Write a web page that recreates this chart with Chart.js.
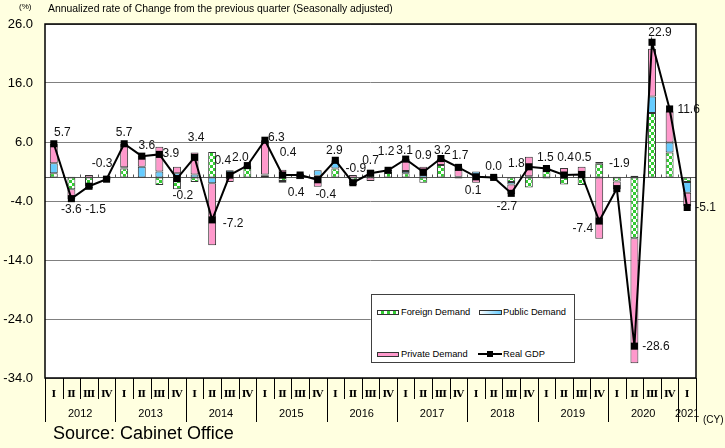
<!DOCTYPE html>
<html><head><meta charset="utf-8">
<script src="https://cdn.jsdelivr.net/npm/chart.js@4.4.1/dist/chart.umd.min.js"></script>
<style>
html,body{margin:0;padding:0;background:#FFFFE0;}
#wrap{position:relative;width:725px;height:448px;overflow:hidden;background:#FFFFE0;font-family:"Liberation Sans",Arial,sans-serif;}
canvas{position:absolute;left:0;top:0;}
.t{position:absolute;white-space:nowrap;color:#000;line-height:1;}
.sw{position:absolute;box-sizing:border-box;border:1px solid #333;}
</style></head><body>
<div id="wrap">
<canvas id="c" width="725" height="448"></canvas>
<div class="t" style="left:19px;top:3px;font-size:8px">(%)</div>
<div class="t" style="left:48px;top:4px;font-size:10.4px">Annualized rate of Change from the previous quarter (Seasonally adjusted)</div>
<div class="t" style="left:703px;top:415px;font-size:10px">(CY)</div>
<div class="t" style="left:53px;top:424px;font-size:18px">Source: Cabinet Office</div>
<div style="position:absolute;left:371px;top:294px;width:204px;height:69px;box-sizing:border-box;background:#fff;border:1px solid #404040;"></div>
<div class="sw" style="left:377px;top:310px;width:22px;height:5px;background:repeating-conic-gradient(#33CC33 0 25%,#fff 0 50%) 0 0/6px 6px;"></div>
<div class="t" style="left:401px;top:308px;font-size:9.3px">Foreign Demand</div>
<div class="sw" style="left:479px;top:310px;width:23px;height:5px;background:linear-gradient(to right,#fff,#66CCFF);"></div>
<div class="t" style="left:503px;top:308px;font-size:9.3px">Public Demand</div>
<div class="sw" style="left:377px;top:352px;width:22px;height:5px;background:#FF99CC;"></div>
<div class="t" style="left:401px;top:350px;font-size:9.3px">Private Demand</div>
<div style="position:absolute;left:478px;top:353px;width:24px;height:2px;background:#000;"></div>
<div style="position:absolute;left:487px;top:351px;width:6px;height:6px;background:#000;"></div>
<div class="t" style="left:503px;top:350px;font-size:9.3px">Real GDP</div>
</div>
<script>
// ---- data ----
const quarterLabels = ['Ⅰ','Ⅱ','Ⅲ','Ⅳ','Ⅰ','Ⅱ','Ⅲ','Ⅳ','Ⅰ','Ⅱ','Ⅲ','Ⅳ','Ⅰ','Ⅱ','Ⅲ','Ⅳ','Ⅰ','Ⅱ','Ⅲ','Ⅳ','Ⅰ','Ⅱ','Ⅲ','Ⅳ','Ⅰ','Ⅱ','Ⅲ','Ⅳ','Ⅰ','Ⅱ','Ⅲ','Ⅳ','Ⅰ','Ⅱ','Ⅲ','Ⅳ','Ⅰ'];
const yearLabels = ['2012','2013','2014','2015','2016','2017','2018','2019','2020','2021'];
const realGDP = [5.7,-3.6,-1.5,-0.3, 5.7,3.6,3.9,-0.2, 3.4,-7.2,0.4,2.0, 6.3,0.4,0.4,-0.4, 2.9,-0.9,0.7,1.2, 3.1,0.9,3.2,1.7, 0.1,0.0,-2.7,1.8, 1.5,0.4,0.5,-7.4, -1.9,-28.6,22.9,11.6, -5.1];
const foreignDemand = [0.7,-2.0,-1.5,-0.4, 1.5,-0.1,-1.3,-2.0, -0.8,4.3,0.8,1.6, 0.3,-0.6,0.6,0.3, 1.5,-1.0,1.0,1.0, 0.7,-0.9,2.1,0.1, 0.4,0.2,-0.8,-1.7, 1.3,-1.2,-1.3,2.3, -0.7,-10.3,10.9,4.2, -0.8];
const publicDemand = [1.7,0.1,-0.4,0.2, 0.2,1.8,1.0,0.7, 0.5,-1.0,0.4,0.0, 0.2,-0.3,0.1,0.9, 1.4,-0.3,0.3,-0.1, 0.4,0.4,0.0,-0.2, 0.6,0.1,-0.4,0.2, 0.4,0.4,0.6,0.3, 0.1,0.3,2.8,1.7, -1.8];
const privateDemand = [3.3,-1.7,0.4,-0.1, 4.0,1.9,4.2,1.1, 3.7,-10.5,-0.8,0.4, 5.8,1.3,-0.3,-1.6, 0.0,0.4,-0.6,0.3, 2.0,1.4,1.1,1.8, -0.9,-0.3,-1.6,3.3, -0.2,1.2,1.2,-10.4, -1.3,-21.2,8.1,5.3, -2.3];
const yTicks = [26,16,6,-4,-14,-24,-34];
// label placement offsets (px) relative to each GDP point
const labelOffsets = [[8.5,-11],[0,11.5],[6.5,23],[-4.5,-15],[0,-11],[5,-10],[11.5,-1],[6,17.5],[1.5,-20],[21,3.5],[-7,-14],[-7,-8],[11.5,-3],[5.5,-22],[-4,17.5],[8,15],[-1,-9.5],[3,-14],[0,-13],[-2,-19],[-1,-8],[0,-16],[1.5,-7.5],[1.5,-11.5],[-3,14],[0,-10.5],[-4.5,13],[-12.5,-3],[-1,-11],[1.5,-17.5],[1.5,-17],[-16.5,7.5],[2.5,-24.5],[21.5,1],[8,-10],[19,1],[18.5,0]];

const categories = quarterLabels.map((q,i)=>yearLabels[Math.floor(i/4)]+' '+q);

function checker(){
  const c=document.createElement('canvas'); c.width=6;c.height=6;
  const g=c.getContext('2d'); g.fillStyle='#33CC33'; g.fillRect(0,0,6,6);
  g.fillStyle='#fff'; g.fillRect(0,0,3,3); g.fillRect(3,3,3,3);
  return g.createPattern(c,'repeat');
}
const SANS='"Liberation Sans", Arial, sans-serif';

const decor = {
  id:'decor',
  beforeDraw(chart){
    const {ctx, chartArea:a} = chart;
    ctx.save();
    ctx.fillStyle='#FFFFE0'; ctx.fillRect(0,0,chart.width,chart.height);
    ctx.fillStyle='#fff'; ctx.fillRect(a.left,a.top,a.right-a.left,a.bottom-a.top);
    ctx.restore();
  },
  beforeDatasetsDraw(chart){
    const {ctx, chartArea:a, scales:{x,y}} = chart;
    const y0 = Math.round(y.getPixelForValue(0))+0.5;
    const w = x.getPixelForValue(1)-x.getPixelForValue(0);
    ctx.save();
    ctx.strokeStyle='#555'; ctx.lineWidth=1;
    ctx.beginPath(); ctx.moveTo(a.left,y0); ctx.lineTo(a.right,y0); ctx.stroke();
    ctx.beginPath();
    for(let k=1;k<categories.length;k++){
      const bx=Math.round(x.getPixelForValue(k)-w/2)+0.5;
      ctx.moveTo(bx,y0); ctx.lineTo(bx,y0-3);
    }
    ctx.stroke();
    ctx.restore();
  },
  afterDraw(chart){
    const {ctx, chartArea:a, scales:{x,y}} = chart;
    const n = categories.length;
    const w = x.getPixelForValue(1)-x.getPixelForValue(0);
    ctx.save();
    // frame
    ctx.strokeStyle='#000'; ctx.lineWidth=1.5;
    ctx.strokeRect(a.left,a.top,a.right-a.left,a.bottom-a.top);
    // category separators
    ctx.lineWidth=1; ctx.strokeStyle='#000';
    ctx.beginPath();
    for(let k=0;k<=n;k++){
      const bx=Math.round(k<n ? x.getPixelForValue(k)-w/2 : x.getPixelForValue(n-1)+w/2)+0.5;
      const yearB = (k%4===0) || k===n;
      ctx.moveTo(bx,a.bottom); ctx.lineTo(bx, yearB ? a.bottom+44 : a.bottom+21);
    }
    ctx.stroke();
    // quarter labels
    ctx.fillStyle='#000'; ctx.textAlign='center'; ctx.textBaseline='middle';
    ctx.font='bold 10px "DejaVu Serif", "Liberation Serif", serif';
    quarterLabels.forEach((q,i)=>ctx.fillText(q, x.getPixelForValue(i), a.bottom+16));
    // year labels
    ctx.font='11px '+SANS;
    yearLabels.forEach((yl,j)=>{
      const s=4*j, e=Math.min(4*j+3,n-1);
      const cx=(x.getPixelForValue(s)+x.getPixelForValue(e))/2;
      ctx.fillText(yl, cx, a.bottom+36);
    });
    // data labels
    const meta = chart.getDatasetMeta(3);
    ctx.font='12px '+SANS; ctx.fillStyle='#111';
    meta.data.forEach((p,i)=>{
      const o=labelOffsets[i];
      ctx.fillText(realGDP[i].toFixed(1), p.x+o[0], p.y+o[1]);
    });
    ctx.restore();
  }
};

const barCommon = {type:'bar', borderColor:'#333', borderWidth:1, borderSkipped:false, stack:'d', order:1, barPercentage:0.45, categoryPercentage:1};
new Chart(document.getElementById('c'), {
  data:{
    labels: categories,
    datasets:[
      Object.assign({label:'Foreign Demand', data:foreignDemand, backgroundColor:checker()}, barCommon),
      Object.assign({label:'Public Demand', data:publicDemand, backgroundColor:'#66CCFF'}, barCommon),
      Object.assign({label:'Private Demand', data:privateDemand, backgroundColor:'#FF99CC'}, barCommon),
      {type:'line', label:'Real GDP', data:realGDP, borderColor:'#000', borderWidth:2, pointStyle:'rect', pointRadius:5, pointBackgroundColor:'#000', pointBorderColor:'#000', pointBorderWidth:0, stack:'g', order:0, tension:0, clip:false}
    ]
  },
  options:{
    responsive:false, animation:false, devicePixelRatio:1,
    layout:{padding:{left:0, top:24, right:29, bottom:70}},
    plugins:{legend:{display:false}, tooltip:{enabled:false}},
    scales:{
      x:{type:'category', stacked:true, display:false, offset:true},
      y:{
        stacked:true, min:-34, max:26,
        afterBuildTicks(s){ s.ticks = yTicks.map(v=>({value:v})); },
        afterFit(s){ s.width = 45; },
        grid:{color:'#808080', lineWidth:1, drawTicks:false},
        border:{display:false},
        ticks:{padding:12, color:'#000', font:{family:SANS, size:13}, callback:v=>Number(v).toFixed(1)}
      }
    }
  },
  plugins:[decor]
});
</script>
</body></html>
